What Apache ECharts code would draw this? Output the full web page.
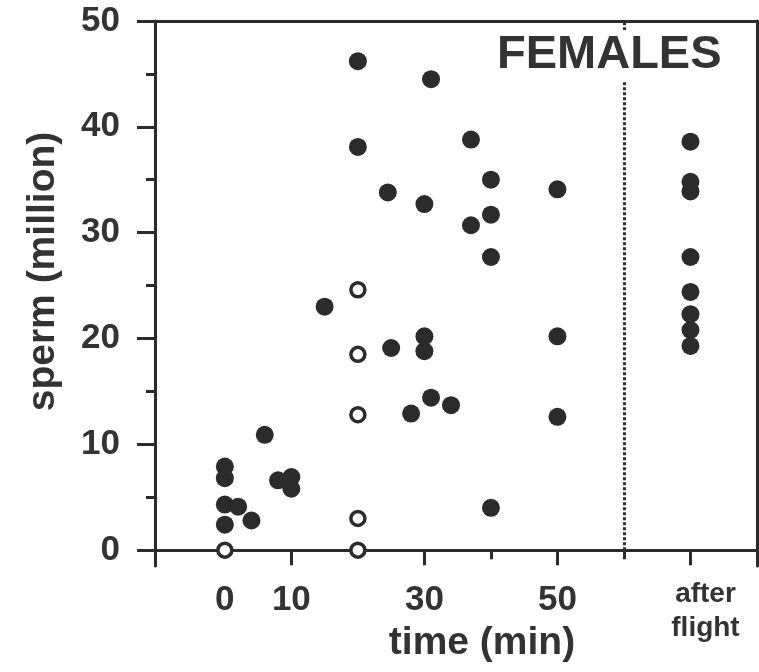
<!DOCTYPE html>
<html>
<head>
    <meta charset="utf-8">
</head>
<body style="margin: 0">
<div id="container" style="width: 759px; height: 672px"></div>
<script type="text/javascript" src="https://cdn.jsdelivr.net/npm/echarts@6.0.0/dist/echarts.min.js"></script>
<script type="text/javascript">
    var dom = document.getElementById("container");
    var myChart = echarts.init(dom);

    // filled dots (time in min, 70 = after flight)
    var filledTime = [0, 0, 0, 0, 2, 4, 6, 8, 10, 10, 15, 20, 20, 24.5, 25, 28, 30, 30, 30, 31, 31, 34,
        37, 37, 40, 40, 40, 40, 50, 50, 50,
        70, 70, 70, 70, 70, 70, 70, 70];
    var filledSperm = [7.9, 6.8, 4.3, 2.4, 4.1, 2.8, 10.9, 6.6, 6.9, 5.8, 23.0, 46.2, 38.1, 33.8, 19.1, 12.9, 32.7, 20.2, 18.8, 44.5, 14.4, 13.7,
        38.8, 30.7, 35.0, 31.7, 27.7, 4.0, 34.1, 20.2, 12.6,
        38.6, 34.8, 33.9, 27.7, 24.4, 22.3, 20.8, 19.3];

    // open circles
    var openTime = [0, 20, 20, 20, 20, 20];
    var openSperm = [0, 0, 3.0, 12.8, 18.5, 24.6];

    // ticks / labels
    var xLabelValues = [0, 10, 30, 50];
    var xMajorTicks = [10, 30, 50, 70];
    var xMinorTicks = [40, 60];
    var yLabelValues = [0, 10, 20, 30, 40, 50];
    var yMinorTicks = [5, 15, 25, 35, 45];
    var flightLine = 60;
    var afterFlight = 70;
    var afterFlightLabel = 'after\nflight';

    var ink = '#2b2b2b';

    function pairs(xs, ys) {
        var out = [];
        for (var i = 0; i < xs.length; i++) {
            out.push([xs[i], ys[i]]);
        }
        return out;
    }

    var xMin = -10.5, xMax = 80, yMin = -1.5, yMax = 50;

    option = {
        animation: false,
        backgroundColor: '#fff',
        title: {
            text: 'FEMALES',
            left: 493,
            top: 30,
            padding: [2, 4, 2, 4],
            backgroundColor: '#fff',
            textStyle: {
                fontFamily: 'Liberation Sans',
                fontSize: 47,
                fontWeight: 'bold',
                color: '#333'
            }
        },
        grid: {
            left: 155,
            right: 2,
            top: 21,
            bottom: 106,
            containLabel: false,
            outerBoundsMode: 'none'
        },
        xAxis: [{
            type: 'value',
            min: xMin,
            max: xMax,
            position: 'bottom',
            name: 'time (min)',
            nameLocation: 'middle',
            nameGap: 58,
            nameMoveOverlap: false,
            nameTextStyle: {
                fontFamily: 'Liberation Sans',
                fontSize: 39,
                fontWeight: 'bold',
                color: '#333',
                padding: [0, 0, 0, 52]
            },
            axisLine: {onZero: true, lineStyle: {color: ink, width: 3}},
            axisTick: {show: true, customValues: xMajorTicks, length: 15, lineStyle: {color: ink, width: 3}},
            axisLabel: {
                customValues: xLabelValues,
                margin: 17,
                fontFamily: 'Liberation Sans',
                fontSize: 35,
                fontWeight: 'bold',
                color: '#333'
            },
            splitLine: {show: false}
        }, {
            type: 'value',
            min: xMin,
            max: xMax,
            position: 'bottom',
            axisLine: {show: false, onZero: true},
            axisTick: {show: true, customValues: xMinorTicks, length: 9, lineStyle: {color: ink, width: 3}},
            axisLabel: {
                customValues: [afterFlight],
                margin: 11,
                fontFamily: 'Liberation Sans',
                fontSize: 28,
                fontWeight: 'bold',
                lineHeight: 34,
                color: '#333',
                padding: [0, 0, 0, 30],
                formatter: function () {
                    return afterFlightLabel;
                }
            },
            splitLine: {show: false}
        }, {
            type: 'value',
            min: xMin,
            max: xMax,
            position: 'top',
            axisLine: {onZero: false, lineStyle: {color: ink, width: 3}},
            axisTick: {show: false},
            axisLabel: {show: false},
            splitLine: {show: false}
        }],
        yAxis: [{
            type: 'value',
            min: yMin,
            max: yMax,
            position: 'left',
            name: 'sperm (million)',
            nameLocation: 'middle',
            nameGap: 92,
            nameMoveOverlap: false,
            nameTextStyle: {
                fontFamily: 'Liberation Sans',
                fontSize: 39,
                fontWeight: 'bold',
                color: '#333',
                padding: [0, 0, 0, 44]
            },
            axisLine: {onZero: false, lineStyle: {color: ink, width: 3}},
            axisTick: {show: true, customValues: yLabelValues, length: 18, lineStyle: {color: ink, width: 3}},
            axisLabel: {
                customValues: yLabelValues,
                margin: 35,
                fontFamily: 'Liberation Sans',
                fontSize: 35,
                fontWeight: 'bold',
                color: '#333'
            },
            splitLine: {show: false}
        }, {
            type: 'value',
            min: yMin,
            max: yMax,
            position: 'left',
            axisLine: {show: false, onZero: false},
            axisTick: {show: true, customValues: yMinorTicks, length: 9, lineStyle: {color: ink, width: 3}},
            axisLabel: {show: false},
            splitLine: {show: false}
        }, {
            type: 'value',
            min: yMin,
            max: yMax,
            position: 'right',
            axisLine: {onZero: false, lineStyle: {color: ink, width: 3}},
            axisTick: {show: false},
            axisLabel: {show: false},
            splitLine: {show: false}
        }],
        series: [{
            type: 'scatter',
            name: 'filled',
            symbol: 'circle',
            symbolSize: 18,
            itemStyle: {color: ink, opacity: 1},
            data: pairs(filledTime, filledSperm),
            markLine: {
                silent: true,
                symbol: 'none',
                label: {show: false},
                lineStyle: {color: '#333', width: 3, type: [3, 2]},
                data: [[{coord: [flightLine, 0]}, {coord: [flightLine, yMax]}]]
            }
        }, {
            type: 'scatter',
            name: 'open',
            symbol: 'circle',
            symbolSize: 14,
            itemStyle: {color: '#fff', borderColor: ink, borderWidth: 3.5, opacity: 1},
            data: pairs(openTime, openSperm),
            z: 3
        }]
    };

    if (option && typeof option === "object") {
        myChart.setOption(option, true);
    }
</script>
</body>
</html>
